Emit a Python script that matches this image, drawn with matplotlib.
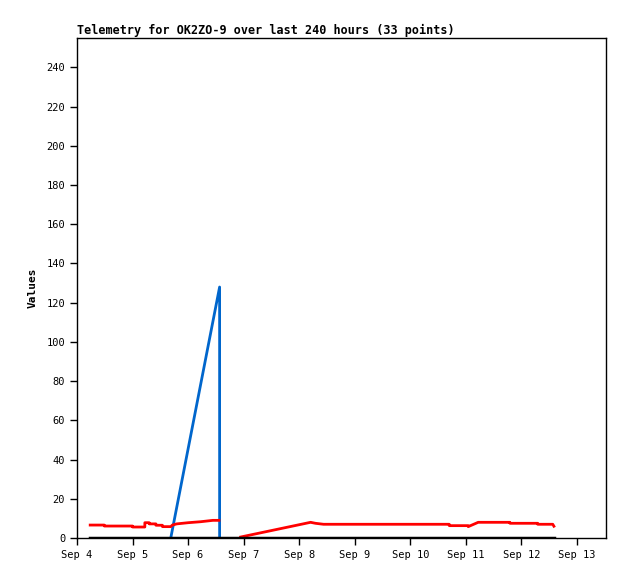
import numpy as np
import pandas as pd
import matplotlib
matplotlib.use("Agg")
import matplotlib.pyplot as plt
import matplotlib.dates as mdates

start = pd.Timestamp("2023-09-04")

# red series: hours since Sep 4 00:00, value (NaN = gap)
red_hours = [5.7, 11.8, 11.8, 24.0, 24.0, 29.3, 29.3, 31.2, 31.2, 34.1, 34.1, 36.9, 36.9,
             40.5, 41.2, 43.1, 43.1, 48.0, 48.0, 53.4, 53.4, 58.7, 58.7, 61.3, 62.0,
             70.7, 100.9, 103.0, 103.0, 106.5, 160.8, 160.8, 169.0, 169.0, 173.3,
             187.0, 187.0, 199.0, 199.0, 205.5, 206.0]
red_vals = [6.6, 6.6, 6.1, 6.1, 5.6, 5.6, 7.8, 7.8, 7.2, 7.2, 6.5, 6.5, 5.8,
            5.8, 6.6, 7.2, 7.2, 7.8, 7.8, 8.3, 8.3, 9.0, 9.0, 9.0, np.nan,
            0.5, 8.0, 7.5, 7.5, 7.0, 7.0, 6.3, 6.3, 5.8, 8.0,
            8.0, 7.5, 7.5, 7.0, 7.0, 6.0]

blue_hours = [40.5, 61.6, 61.6]
blue_vals = [0, 128, 0]

black_hours = [5.7, 206.0]
black_vals = [0, 0]

def to_dates(hours):
    return start + pd.to_timedelta(hours, unit="h")

plt.rcParams['font.family'] = ['DejaVu Sans Mono']

fig = plt.figure(figsize=(6.18, 5.79), dpi=100)
ax = fig.add_axes([77 / 618, 41 / 579, 529 / 618, 500 / 579])

ax.plot(to_dates(blue_hours), blue_vals, color='#0066cc', lw=2)
ax.plot(to_dates(red_hours), red_vals, color='#ff0000', lw=2)
ax.plot(to_dates(black_hours), black_vals, color='#000000', lw=2.5)

ax.set_xlim(start, start + pd.Timedelta(hours=9 * 24 + 12.5))
ax.set_ylim(0, 255)
ax.set_yticks(np.arange(0, 241, 20))
ax.xaxis.set_major_locator(mdates.DayLocator())
ax.xaxis.set_major_formatter(mdates.DateFormatter('%b %-d'))

ax.tick_params(direction='out', length=5, width=1, labelsize=7.5)
for s in ax.spines.values():
    s.set_linewidth(1)

ax.set_title('Telemetry for OK2ZO-9 over last 240 hours (33 points)', loc='left',
             fontsize=8.5, fontweight='bold', pad=3)
ax.set_ylabel('Values', fontsize=8, fontweight='bold', labelpad=6)

fig.savefig('out.png', dpi=100)
